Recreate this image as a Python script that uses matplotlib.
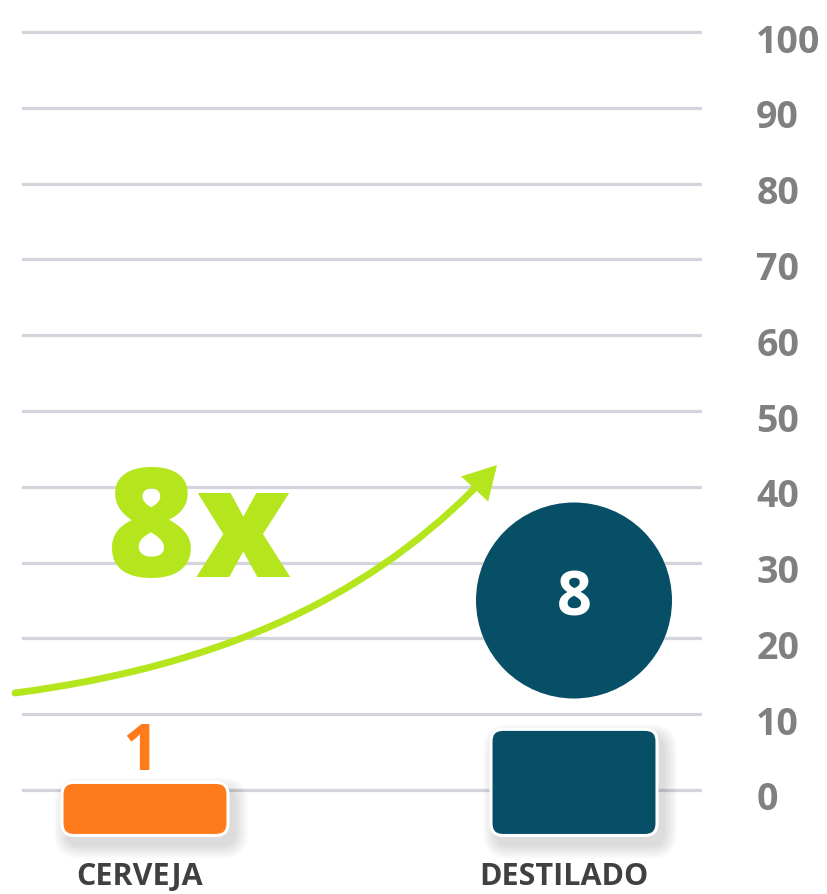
import matplotlib
matplotlib.use("Agg")
import matplotlib.pyplot as plt
from matplotlib.patches import FancyBboxPatch, Ellipse, FancyArrowPatch
from matplotlib.path import Path
from matplotlib.transforms import ScaledTranslation

# ---- data ----
categories = ["CERVEJA", "DESTILADO"]
values = [1, 8]
bubble_label = "8"
multiplier_text = "8x"
yticks = [0, 10, 20, 30, 40, 50, 60, 70, 80, 90, 100]

# ---- style ----
ORANGE = "#FF7A1A"
TEAL = "#064F66"
GREEN = "#B5E61D"
GRID = "#D3D5DC"
TICK = "#808080"
CAT = "#404040"
FONT = ["Open Sans", "DejaVu Sans"]
BASELINE = -6
BUBBLE_Y = 25

W, H, DPI = 828, 894, 100
fig = plt.figure(figsize=(W / DPI, H / DPI), dpi=DPI)

# main axes: x categories centered at px 145 and 574, y 0->px 790, 100->px 32
px_per_x = 429.0
px_per_y = 7.58
xl = (22 - 145) / px_per_x
xr = (702 - 145) / px_per_x
ylo, yhi = -8, 102
top_px = 790 - yhi * px_per_y
bot_px = 790 - ylo * px_per_y
ax = fig.add_axes([22 / W, (H - bot_px) / H, 680 / W, (bot_px - top_px) / H])
ax.set_xlim(xl, xr)
ax.set_ylim(ylo, yhi)
ax.patch.set_alpha(0)
for s in ax.spines.values():
    s.set_visible(False)

ax.set_yticks(yticks)
ax.grid(axis="y", color=GRID, lw=2.3, zorder=0)
ax.set_axisbelow(True)
ax.yaxis.tick_right()
ax.tick_params(axis="y", length=0, pad=39, labelsize=27, labelcolor=TICK)
ax.set_yticklabels([str(t) for t in yticks], fontfamily=FONT, fontweight="bold")
for lab in ax.get_yticklabels():
    lab.set_transform(lab.get_transform() + ScaledTranslation(0, -6 / DPI, fig.dpi_scale_trans))

ax.set_xticks(range(len(categories)))
ax.set_xticklabels(categories, fontfamily=FONT, fontweight="bold", fontsize=22, color=CAT)
ax.tick_params(axis="x", length=0, pad=8)
for lab, dx in zip(ax.get_xticklabels(), [-5, -10]):
    lab.set_transform(lab.get_transform() + ScaledTranslation(dx / DPI, 0, fig.dpi_scale_trans))

colors = [ORANGE, TEAL]
width = 166 / px_per_x
bars = ax.bar(range(len(categories)), [v - BASELINE for v in values], bottom=BASELINE,
              width=width, color=colors)
aspect = px_per_x / px_per_y
rad = 12 / px_per_x
for b, c in zip(bars, colors):
    x0, y0, w, h = b.get_x(), b.get_y(), b.get_width(), b.get_height()
    b.remove()
    # soft shadow
    for i in range(7):
        g = (i + 1) * 2.0
        off = ScaledTranslation(6 / DPI, -9 / DPI, fig.dpi_scale_trans)
        sh = FancyBboxPatch((x0 - g / px_per_x, y0 - g / px_per_y), w + 2 * g / px_per_x,
                            h + 2 * g / px_per_y,
                            boxstyle=f"round,pad=0,rounding_size={rad + g / px_per_x}",
                            mutation_aspect=aspect, fc="black", ec="none", alpha=0.018,
                            transform=ax.transData + off, zorder=2, clip_on=False)
        ax.add_patch(sh)
    p = FancyBboxPatch((x0, y0), w, h, boxstyle=f"round,pad=0,rounding_size={rad}",
                       mutation_aspect=aspect, fc=c, ec="white", lw=2.2, zorder=3,
                       clip_on=False)
    ax.add_patch(p)

# value label above first bar
ax.annotate(str(values[0]), (0 - 5 / px_per_x, values[0]), xytext=(0, 9),
            textcoords="offset points", ha="center", va="baseline",
            fontsize=46, fontweight="bold", fontfamily=FONT, color=ORANGE, zorder=5)

# bubble above second bar
ell = Ellipse((1, BUBBLE_Y), 196 / px_per_x, 196 / px_per_y, fc=TEAL, ec="none", zorder=4)
ax.add_patch(ell)
ax.text(1, BUBBLE_Y, bubble_label, ha="center", va="center", fontsize=44,
        fontweight="bold", fontfamily=FONT, color="white", zorder=5)

# overlay for annotation (pixel space)
ov = fig.add_axes([0, 0, 1, 1])
ov.set_xlim(0, W)
ov.set_ylim(H, 0)
ov.axis("off")
ov.patch.set_alpha(0)

ov.text(199, 577, multiplier_text, ha="center", va="baseline", fontsize=109,
        fontweight="heavy", fontfamily=FONT, color=GREEN)

verts = [(15, 693), (250, 662), (390, 580), (497, 465)]
codes = [Path.MOVETO, Path.CURVE4, Path.CURVE4, Path.CURVE4]
arrow = FancyArrowPatch(path=Path(verts, codes),
                        arrowstyle="-|>,head_length=16,head_width=9",
                        mutation_scale=1, lw=5, color=GREEN, shrinkA=0, shrinkB=0,
                        transform=ov.transData, joinstyle="miter")
ov.add_patch(arrow)

fig.savefig("out.png", dpi=DPI)
